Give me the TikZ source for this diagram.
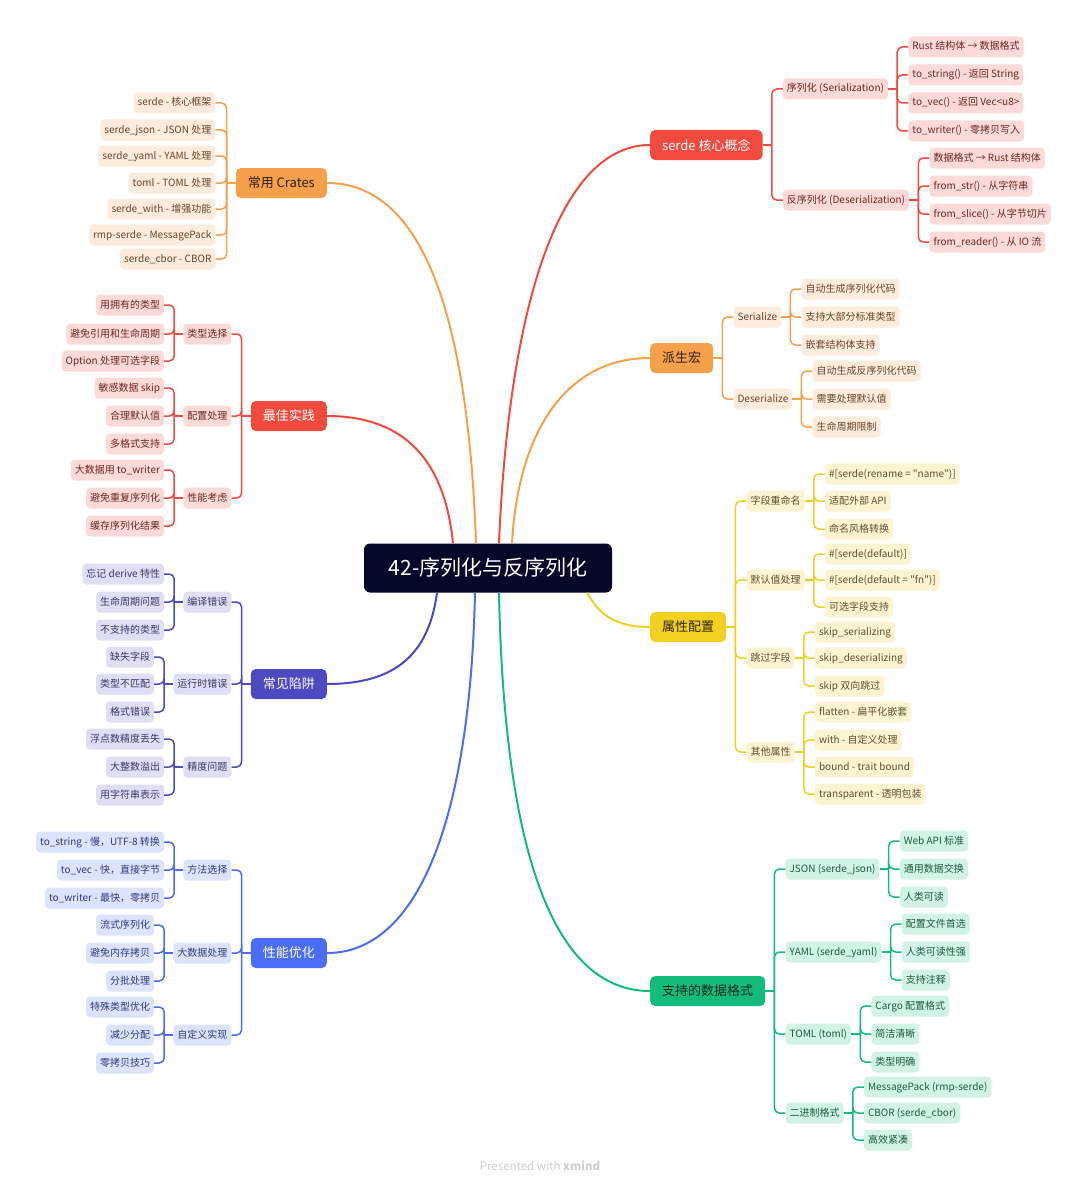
\documentclass[tikz,border=0pt]{standalone}
\usepackage{fontspec}
\setmainfont{Noto Sans CJK SC}

\definecolor{rootc}{HTML}{07072A}
\definecolor{redM}{HTML}{F24A3F}
\definecolor{redL}{HTML}{FDDAD7}
\definecolor{redT}{HTML}{6B2521}
\definecolor{oraM}{HTML}{F5A14C}
\definecolor{oraL}{HTML}{FDEBDB}
\definecolor{oraT}{HTML}{6A4428}
\definecolor{oraD}{HTML}{2E1E10}
\definecolor{yelM}{HTML}{F2D020}
\definecolor{yelL}{HTML}{FCF3D1}
\definecolor{yelT}{HTML}{5E5129}
\definecolor{yelD}{HTML}{2E2700}
\definecolor{indM}{HTML}{4C49C1}
\definecolor{indL}{HTML}{DFDEF4}
\definecolor{indT}{HTML}{3A376B}
\definecolor{bluM}{HTML}{4B6DF6}
\definecolor{bluL}{HTML}{DCE3FD}
\definecolor{bluT}{HTML}{2C3B7A}
\definecolor{grnM}{HTML}{13BB7C}
\definecolor{grnL}{HTML}{D0F3E5}
\definecolor{grnT}{HTML}{1D5A42}
\definecolor{grnD}{HTML}{0E2A1F}
\definecolor{footc}{HTML}{CFCFCF}

\tikzset{
  rootbox/.style={fill=rootc, text=white, rounded corners=6pt, minimum width=248pt,
    minimum height=49pt, font=\fontsize{21}{25}\selectfont},
  topic/.style={rounded corners=5pt, minimum height=30pt, inner xsep=12pt, inner ysep=0pt,
    font=\fontsize{13}{15}\selectfont},
  leaf/.style={rounded corners=4pt, inner xsep=4pt, inner ysep=0pt, minimum height=21pt,
    text height=8pt, text depth=2pt, font=\fontsize{10}{12}\selectfont},
  link/.style={line width=1.5pt, rounded corners=5pt},
  trunk/.style={line width=2pt},
  redtop/.style={topic, fill=redM, text=white},
  oratop/.style={topic, fill=oraM, text=oraD},
  yeltop/.style={topic, fill=yelM, text=yelD},
  indtop/.style={topic, fill=indM, text=white},
  blutop/.style={topic, fill=bluM, text=white},
  grntop/.style={topic, fill=grnM, text=grnD},
  redleaf/.style={leaf, fill=redL, text=redT},
  oraleaf/.style={leaf, fill=oraL, text=oraT},
  yelleaf/.style={leaf, fill=yelL, text=yelT},
  indleaf/.style={leaf, fill=indL, text=indT},
  bluleaf/.style={leaf, fill=bluL, text=bluT},
  grnleaf/.style={leaf, fill=grnL, text=grnT},
  redlink/.style={link, draw=redM},
  oralink/.style={link, draw=oraM},
  yellink/.style={link, draw=yelM},
  indlink/.style={link, draw=indM},
  blulink/.style={link, draw=bluM},
  grnlink/.style={link, draw=grnM},
}

\begin{document}
\begin{tikzpicture}[x=1pt, y=-1pt]
  \fill[white] (0,0) rectangle (1080,1188);
  \useasboundingbox (0,0) rectangle (1080,1188);

  %central topic
  \node[rootbox] (root) at (488,568) {42-序列化与反序列化};

  %main topics
  \node[redtop, anchor=west] (core) at (650,145) {serde 核心概念};
  \node[oratop, anchor=west] (derive) at (650,358) {派生宏};
  \node[yeltop, anchor=west] (attr) at (650,627) {属性配置};
  \node[grntop, anchor=west] (fmt) at (650,991) {支持的数据格式};
  \node[oratop, anchor=east] (crates) at (327,183) {常用 Crates};
  \node[redtop, anchor=east] (best) at (327,416) {最佳实践};
  \node[indtop, anchor=east] (pit) at (327,684) {常见陷阱};
  \node[blutop, anchor=east] (perf) at (327,953) {性能优化};

  %curves from the centre
  \draw[trunk, redM] ([xshift=11pt]root.north) .. controls +(10,-240) and +(-90,0) .. (core.west);
  \draw[trunk, oraM] ([xshift=24pt]root.north) .. controls +(6,-110) and +(-85,0) .. (derive.west);
  \draw[trunk, yelM] ([xshift=-25pt]root.south east) .. controls +(12,22) and +(-35,0) .. (attr.west);
  \draw[trunk, grnM] ([xshift=11pt]root.south) .. controls +(5,250) and +(-100,0) .. (fmt.west);
  \draw[trunk, redM] ([xshift=-35pt]root.north) .. controls +(-8,-80) and +(80,0) .. (best.east);
  \draw[trunk, oraM] ([xshift=-12pt]root.north) .. controls +(-8,-230) and +(95,0) .. (crates.east);
  \draw[trunk, indM] ([xshift=-51pt]root.south) .. controls +(-8,60) and +(70,0) .. (pit.east);
  \draw[trunk, bluM] ([xshift=-13pt]root.south) .. controls +(-5,230) and +(90,0) .. (perf.east);

  %serde core
  \path (core.east) ++(9,0) coordinate (coreJ) ++(11,0) coordinate (coreK);
  \draw[redlink] (core.east) -- (coreJ);
  \foreach \nm/\dy/\txt in {ser/-56/{序列化 (Serialization)}, des/55/{反序列化 (Deserialization)}}{
    \path (coreK) ++(0,\dy) node[redleaf, anchor=west] (\nm) {\txt};
    \draw[redlink] (coreJ) |- (\nm.west);
  }
  \path (ser.east) ++(9,0) coordinate (serJ) ++(11,0) coordinate (serK);
  \draw[redlink] (ser.east) -- (serJ);
  \foreach \nm/\dy/\txt in {ser1/-42/{Rust 结构体 → 数据格式}, ser2/-14/{to\_string() - 返回 String},
      ser3/14/{to\_vec() - 返回 Vec<u8>}, ser4/42/{to\_writer() - 零拷贝写入}}{
    \path (serK) ++(0,\dy) node[redleaf, anchor=west] (\nm) {\txt};
    \draw[redlink] (serJ) |- (\nm.west);
  }
  \path (des.east) ++(9,0) coordinate (desJ) ++(11,0) coordinate (desK);
  \draw[redlink] (des.east) -- (desJ);
  \foreach \nm/\dy/\txt in {des1/-42/{数据格式 → Rust 结构体}, des2/-14/{from\_str() - 从字符串},
      des3/14/{from\_slice() - 从字节切片}, des4/42/{from\_reader() - 从 IO 流}}{
    \path (desK) ++(0,\dy) node[redleaf, anchor=west] (\nm) {\txt};
    \draw[redlink] (desJ) |- (\nm.west);
  }

  %derive macros
  \path (derive.east) ++(9,0) coordinate (derJ) ++(11,0) coordinate (derK);
  \draw[oralink] (derive.east) -- (derJ);
  \foreach \nm/\dy/\txt in {dser/-41/{Serialize}, ddes/41/{Deserialize}}{
    \path (derK) ++(0,\dy) node[oraleaf, anchor=west] (\nm) {\txt};
    \draw[oralink] (derJ) |- (\nm.west);
  }
  \path (dser.east) ++(9,0) coordinate (dserJ) ++(11,0) coordinate (dserK);
  \draw[oralink] (dser.east) -- (dserJ);
  \foreach \nm/\dy/\txt in {dser1/-28/{自动生成序列化代码}, dser2/0/{支持大部分标准类型}, dser3/28/{嵌套结构体支持}}{
    \path (dserK) ++(0,\dy) node[oraleaf, anchor=west] (\nm) {\txt};
    \draw[oralink] (dserJ) |- (\nm.west);
  }
  \path (ddes.east) ++(9,0) coordinate (ddesJ) ++(11,0) coordinate (ddesK);
  \draw[oralink] (ddes.east) -- (ddesJ);
  \foreach \nm/\dy/\txt in {ddes1/-28/{自动生成反序列化代码}, ddes2/0/{需要处理默认值}, ddes3/28/{生命周期限制}}{
    \path (ddesK) ++(0,\dy) node[oraleaf, anchor=west] (\nm) {\txt};
    \draw[oralink] (ddesJ) |- (\nm.west);
  }

  %attributes
  \path (attr.east) ++(9,0) coordinate (attrJ) ++(11,0) coordinate (attrK);
  \draw[yellink] (attr.east) -- (attrJ);
  \foreach \nm/\dy/\txt in {ren/-126/{字段重命名}, dft/-47/{默认值处理}, skp/31/{跳过字段}, oth/125/{其他属性}}{
    \path (attrK) ++(0,\dy) node[yelleaf, anchor=west] (\nm) {\txt};
    \draw[yellink] (attrJ) |- (\nm.west);
  }
  \path (ren.east) ++(9,0) coordinate (renJ) ++(11,0) coordinate (renK);
  \draw[yellink] (ren.east) -- (renJ);
  \foreach \nm/\dy/\txt in {ren1/-27/{\#[serde(rename = \textquotedbl name\textquotedbl)]}, ren2/0/{适配外部 API}, ren3/28/{命名风格转换}}{
    \path (renK) ++(0,\dy) node[yelleaf, anchor=west] (\nm) {\txt};
    \draw[yellink] (renJ) |- (\nm.west);
  }
  \path (dft.east) ++(9,0) coordinate (dftJ) ++(11,0) coordinate (dftK);
  \draw[yellink] (dft.east) -- (dftJ);
  \foreach \nm/\dy/\txt in {dft1/-26/{\#[serde(default)]}, dft2/0/{\#[serde(default = \textquotedbl fn\textquotedbl)]}, dft3/27/{可选字段支持}}{
    \path (dftK) ++(0,\dy) node[yelleaf, anchor=west] (\nm) {\txt};
    \draw[yellink] (dftJ) |- (\nm.west);
  }
  \path (skp.east) ++(9,0) coordinate (skpJ) ++(11,0) coordinate (skpK);
  \draw[yellink] (skp.east) -- (skpJ);
  \foreach \nm/\dy/\txt in {skp1/-26/{skip\_serializing}, skp2/0/{skip\_deserializing}, skp3/28/{skip 双向跳过}}{
    \path (skpK) ++(0,\dy) node[yelleaf, anchor=west] (\nm) {\txt};
    \draw[yellink] (skpJ) |- (\nm.west);
  }
  \path (oth.east) ++(9,0) coordinate (othJ) ++(11,0) coordinate (othK);
  \draw[yellink] (oth.east) -- (othJ);
  \foreach \nm/\dy/\txt in {oth1/-40/{flatten - 扁平化嵌套}, oth2/-12/{with - 自定义处理},
      oth3/15/{bound - trait bound}, oth4/42/{transparent - 透明包装}}{
    \path (othK) ++(0,\dy) node[yelleaf, anchor=west] (\nm) {\txt};
    \draw[yellink] (othJ) |- (\nm.west);
  }

  %data formats
  \path (fmt.east) ++(9,0) coordinate (fmtJ) ++(11,0) coordinate (fmtK);
  \draw[grnlink] (fmt.east) -- (fmtJ);
  \foreach \nm/\dy/\txt in {json/-122/{JSON (serde\_json)}, yaml/-39/{YAML (serde\_yaml)},
      toml/43/{TOML (toml)}, bin/122/{二进制格式}}{
    \path (fmtK) ++(0,\dy) node[grnleaf, anchor=west] (\nm) {\txt};
    \draw[grnlink] (fmtJ) |- (\nm.west);
  }
  \path (json.east) ++(9,0) coordinate (jsonJ) ++(11,0) coordinate (jsonK);
  \draw[grnlink] (json.east) -- (jsonJ);
  \foreach \nm/\dy/\txt in {json1/-28/{Web API 标准}, json2/0/{通用数据交换}, json3/28/{人类可读}}{
    \path (jsonK) ++(0,\dy) node[grnleaf, anchor=west] (\nm) {\txt};
    \draw[grnlink] (jsonJ) |- (\nm.west);
  }
  \path (yaml.east) ++(9,0) coordinate (yamlJ) ++(11,0) coordinate (yamlK);
  \draw[grnlink] (yaml.east) -- (yamlJ);
  \foreach \nm/\dy/\txt in {yaml1/-28/{配置文件首选}, yaml2/0/{人类可读性强}, yaml3/28/{支持注释}}{
    \path (yamlK) ++(0,\dy) node[grnleaf, anchor=west] (\nm) {\txt};
    \draw[grnlink] (yamlJ) |- (\nm.west);
  }
  \path (toml.east) ++(9,0) coordinate (tomlJ) ++(11,0) coordinate (tomlK);
  \draw[grnlink] (toml.east) -- (tomlJ);
  \foreach \nm/\dy/\txt in {toml1/-28/{Cargo 配置格式}, toml2/0/{简洁清晰}, toml3/28/{类型明确}}{
    \path (tomlK) ++(0,\dy) node[grnleaf, anchor=west] (\nm) {\txt};
    \draw[grnlink] (tomlJ) |- (\nm.west);
  }
  \path (bin.east) ++(9,0) coordinate (binJ) ++(11,0) coordinate (binK);
  \draw[grnlink] (bin.east) -- (binJ);
  \foreach \nm/\dy/\txt in {bin1/-26/{MessagePack (rmp-serde)}, bin2/0/{CBOR (serde\_cbor)}, bin3/27/{高效紧凑}}{
    \path (binK) ++(0,\dy) node[grnleaf, anchor=west] (\nm) {\txt};
    \draw[grnlink] (binJ) |- (\nm.west);
  }

  %common crates
  \path (crates.west) ++(-9,0) coordinate (crJ) ++(-11,0) coordinate (crK);
  \draw[oralink] (crates.west) -- (crJ);
  \foreach \nm/\dy/\txt in {cr1/-80/{serde - 核心框架}, cr2/-53/{serde\_json - JSON 处理},
      cr3/-27/{serde\_yaml - YAML 处理}, cr4/0/{toml - TOML 处理}, cr5/26/{serde\_with - 增强功能},
      cr6/52/{rmp-serde - MessagePack}, cr7/76/{serde\_cbor - CBOR}}{
    \path (crK) ++(0,\dy) node[oraleaf, anchor=east] (\nm) {\txt};
    \draw[oralink] (crJ) |- (\nm.east);
  }

  %best practice
  \path (best.west) ++(-9,0) coordinate (bestJ) ++(-10,0) coordinate (bestK);
  \draw[redlink] (best.west) -- (bestJ);
  \foreach \nm/\dy/\txt in {bty/-82/{类型选择}, bcf/0/{配置处理}, bpf/82/{性能考虑}}{
    \path (bestK) ++(0,\dy) node[redleaf, anchor=east] (\nm) {\txt};
    \draw[redlink] (bestJ) |- (\nm.east);
  }
  \path (bty.west) ++(-9,0) coordinate (btyJ) ++(-10,0) coordinate (btyK);
  \draw[redlink] (bty.west) -- (btyJ);
  \foreach \nm/\dy/\txt in {bty1/-29/{用拥有的类型}, bty2/0/{避免引用和生命周期}, bty3/27/{Option 处理可选字段}}{
    \path (btyK) ++(0,\dy) node[redleaf, anchor=east] (\nm) {\txt};
    \draw[redlink] (btyJ) |- (\nm.east);
  }
  \path (bcf.west) ++(-9,0) coordinate (bcfJ) ++(-10,0) coordinate (bcfK);
  \draw[redlink] (bcf.west) -- (bcfJ);
  \foreach \nm/\dy/\txt in {bcf1/-28/{敏感数据 skip}, bcf2/0/{合理默认值}, bcf3/28/{多格式支持}}{
    \path (bcfK) ++(0,\dy) node[redleaf, anchor=east] (\nm) {\txt};
    \draw[redlink] (bcfJ) |- (\nm.east);
  }
  \path (bpf.west) ++(-9,0) coordinate (bpfJ) ++(-10,0) coordinate (bpfK);
  \draw[redlink] (bpf.west) -- (bpfJ);
  \foreach \nm/\dy/\txt in {bpf1/-28/{大数据用 to\_writer}, bpf2/0/{避免重复序列化}, bpf3/28/{缓存序列化结果}}{
    \path (bpfK) ++(0,\dy) node[redleaf, anchor=east] (\nm) {\txt};
    \draw[redlink] (bpfJ) |- (\nm.east);
  }

  %pitfalls
  \path (pit.west) ++(-9,0) coordinate (pitJ) ++(-10,0) coordinate (pitK);
  \draw[indlink] (pit.west) -- (pitJ);
  \foreach \nm/\dy/\txt in {pcp/-82/{编译错误}, prt/0/{运行时错误}, ppr/83/{精度问题}}{
    \path (pitK) ++(0,\dy) node[indleaf, anchor=east] (\nm) {\txt};
    \draw[indlink] (pitJ) |- (\nm.east);
  }
  \path (pcp.west) ++(-9,0) coordinate (pcpJ) ++(-10,0) coordinate (pcpK);
  \draw[indlink] (pcp.west) -- (pcpJ);
  \foreach \nm/\dy/\txt in {pcp1/-28/{忘记 derive 特性}, pcp2/0/{生命周期问题}, pcp3/28/{不支持的类型}}{
    \path (pcpK) ++(0,\dy) node[indleaf, anchor=east] (\nm) {\txt};
    \draw[indlink] (pcpJ) |- (\nm.east);
  }
  \path (prt.west) ++(-9,0) coordinate (prtJ) ++(-10,0) coordinate (prtK);
  \draw[indlink] (prt.west) -- (prtJ);
  \foreach \nm/\dy/\txt in {prt1/-27/{缺失字段}, prt2/0/{类型不匹配}, prt3/28/{格式错误}}{
    \path (prtK) ++(0,\dy) node[indleaf, anchor=east] (\nm) {\txt};
    \draw[indlink] (prtJ) |- (\nm.east);
  }
  \path (ppr.west) ++(-9,0) coordinate (pprJ) ++(-10,0) coordinate (pprK);
  \draw[indlink] (ppr.west) -- (pprJ);
  \foreach \nm/\dy/\txt in {ppr1/-28/{浮点数精度丢失}, ppr2/0/{大整数溢出}, ppr3/28/{用字符串表示}}{
    \path (pprK) ++(0,\dy) node[indleaf, anchor=east] (\nm) {\txt};
    \draw[indlink] (pprJ) |- (\nm.east);
  }

  %performance
  \path (perf.west) ++(-9,0) coordinate (perfJ) ++(-10,0) coordinate (perfK);
  \draw[blulink] (perf.west) -- (perfJ);
  \foreach \nm/\dy/\txt in {pme/-83/{方法选择}, pbd/0/{大数据处理}, pcu/82/{自定义实现}}{
    \path (perfK) ++(0,\dy) node[bluleaf, anchor=east] (\nm) {\txt};
    \draw[blulink] (perfJ) |- (\nm.east);
  }
  \path (pme.west) ++(-9,0) coordinate (pmeJ) ++(-10,0) coordinate (pmeK);
  \draw[blulink] (pme.west) -- (pmeJ);
  \foreach \nm/\dy/\txt in {pme1/-28/{to\_string - 慢，UTF-8 转换}, pme2/0/{to\_vec - 快，直接字节},
      pme3/28/{to\_writer - 最快，零拷贝}}{
    \path (pmeK) ++(0,\dy) node[bluleaf, anchor=east] (\nm) {\txt};
    \draw[blulink] (pmeJ) |- (\nm.east);
  }
  \path (pbd.west) ++(-9,0) coordinate (pbdJ) ++(-10,0) coordinate (pbdK);
  \draw[blulink] (pbd.west) -- (pbdJ);
  \foreach \nm/\dy/\txt in {pbd1/-28/{流式序列化}, pbd2/0/{避免内存拷贝}, pbd3/28/{分批处理}}{
    \path (pbdK) ++(0,\dy) node[bluleaf, anchor=east] (\nm) {\txt};
    \draw[blulink] (pbdJ) |- (\nm.east);
  }
  \path (pcu.west) ++(-9,0) coordinate (pcuJ) ++(-10,0) coordinate (pcuK);
  \draw[blulink] (pcu.west) -- (pcuJ);
  \foreach \nm/\dy/\txt in {pcu1/-28/{特殊类型优化}, pcu2/0/{减少分配}, pcu3/28/{零拷贝技巧}}{
    \path (pcuK) ++(0,\dy) node[bluleaf, anchor=east] (\nm) {\txt};
    \draw[blulink] (pcuJ) |- (\nm.east);
  }

  %footer
  \node[text=footc, font=\fontsize{11.5}{13}\selectfont] (foot) at (540,1166) {Presented with \textbf{xmind}};
\end{tikzpicture}
\end{document}
